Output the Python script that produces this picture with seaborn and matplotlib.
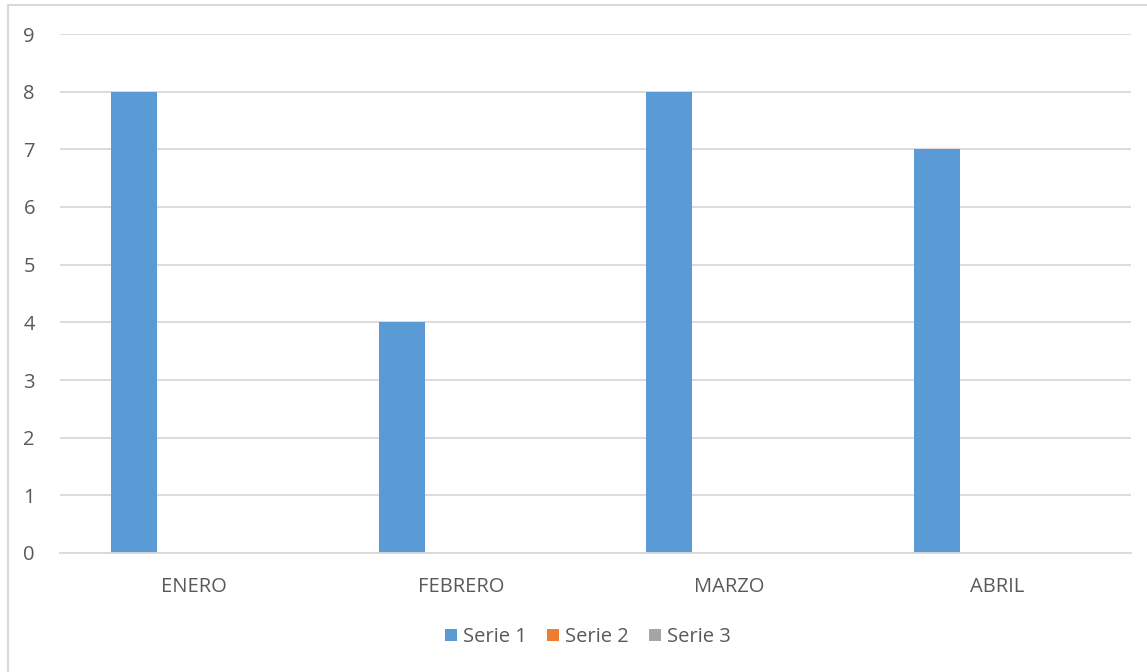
import matplotlib
matplotlib.use("Agg")
import matplotlib.pyplot as plt
import seaborn as sns
import pandas as pd
from matplotlib.lines import Line2D
from matplotlib.patches import Patch

categories = ["ENERO", "FEBRERO", "MARZO", "ABRIL"]
series_names = ["Serie 1", "Serie 2", "Serie 3"]
serie1 = [8, 4, 8, 7]
serie2 = [0, 0, 0, 0]
serie3 = [0, 0, 0, 0]
colors = ["#5B9BD5", "#ED7D31", "#A5A5A5"]
yticks = [0, 1, 2, 3, 4, 5, 6, 7, 8, 9]

rows = []
for name, vals in zip(series_names, [serie1, serie2, serie3]):
    for c, v in zip(categories, vals):
        rows.append({"Mes": c, "Serie": name, "Valor": v})
df = pd.DataFrame(rows)

sns.set_theme(style="white")
plt.rcParams["font.family"] = ["Open Sans", "DejaVu Sans"]

W, H = 1147, 672
fig = plt.figure(figsize=(W / 100, H / 100), dpi=100)
ax = fig.add_axes([60 / W, 1 - 553 / H, (1131 - 60) / W, (553 - 34) / H])

sns.barplot(data=df, x="Mes", y="Valor", hue="Serie", order=categories,
            hue_order=series_names, palette=colors, width=0.672, gap=0.23,
            saturation=1, ax=ax, legend=False, linewidth=0)

ax.set_xlim(-0.5, 3.5)
ax.set_ylim(0, 9)
ax.set_yticks(yticks)
ax.set_yticklabels([str(t) for t in yticks])
ax.yaxis.grid(True, color="#D9D9D9", linewidth=1.3)
ax.set_axisbelow(True)
for s in ["top", "right", "left"]:
    ax.spines[s].set_visible(False)
ax.spines["bottom"].set_color("#D9D9D9")
ax.spines["bottom"].set_linewidth(1.3)
ax.set_xlabel("")
ax.set_ylabel("")
ax.tick_params(axis="both", length=0, labelsize=14.5, colors="#595959")
ax.tick_params(axis="y", pad=18)
ax.tick_params(axis="x", pad=17)

handles = [Patch(facecolor=c, edgecolor="none", label=n) for c, n in zip(colors, series_names)]
leg = fig.legend(handles=handles, loc="center", bbox_to_anchor=(588 / W, 1 - 637 / H),
                 ncol=3, frameon=False, fontsize=14.5, handlelength=0.6, handleheight=0.6,
                 handletextpad=0.3, columnspacing=1.0)
for t in leg.get_texts():
    t.set_color("#595959")

# outer chart border (top and left visible)
fig.add_artist(Line2D([8 / W, 1.0], [1 - 5 / H, 1 - 5 / H], color="#D9D9D9", linewidth=1.5,
                      transform=fig.transFigure))
fig.add_artist(Line2D([8 / W, 8 / W], [1 - 5 / H, 0], color="#D9D9D9", linewidth=1.5,
                      transform=fig.transFigure))

fig.savefig("out.png", dpi=100, facecolor="white")
